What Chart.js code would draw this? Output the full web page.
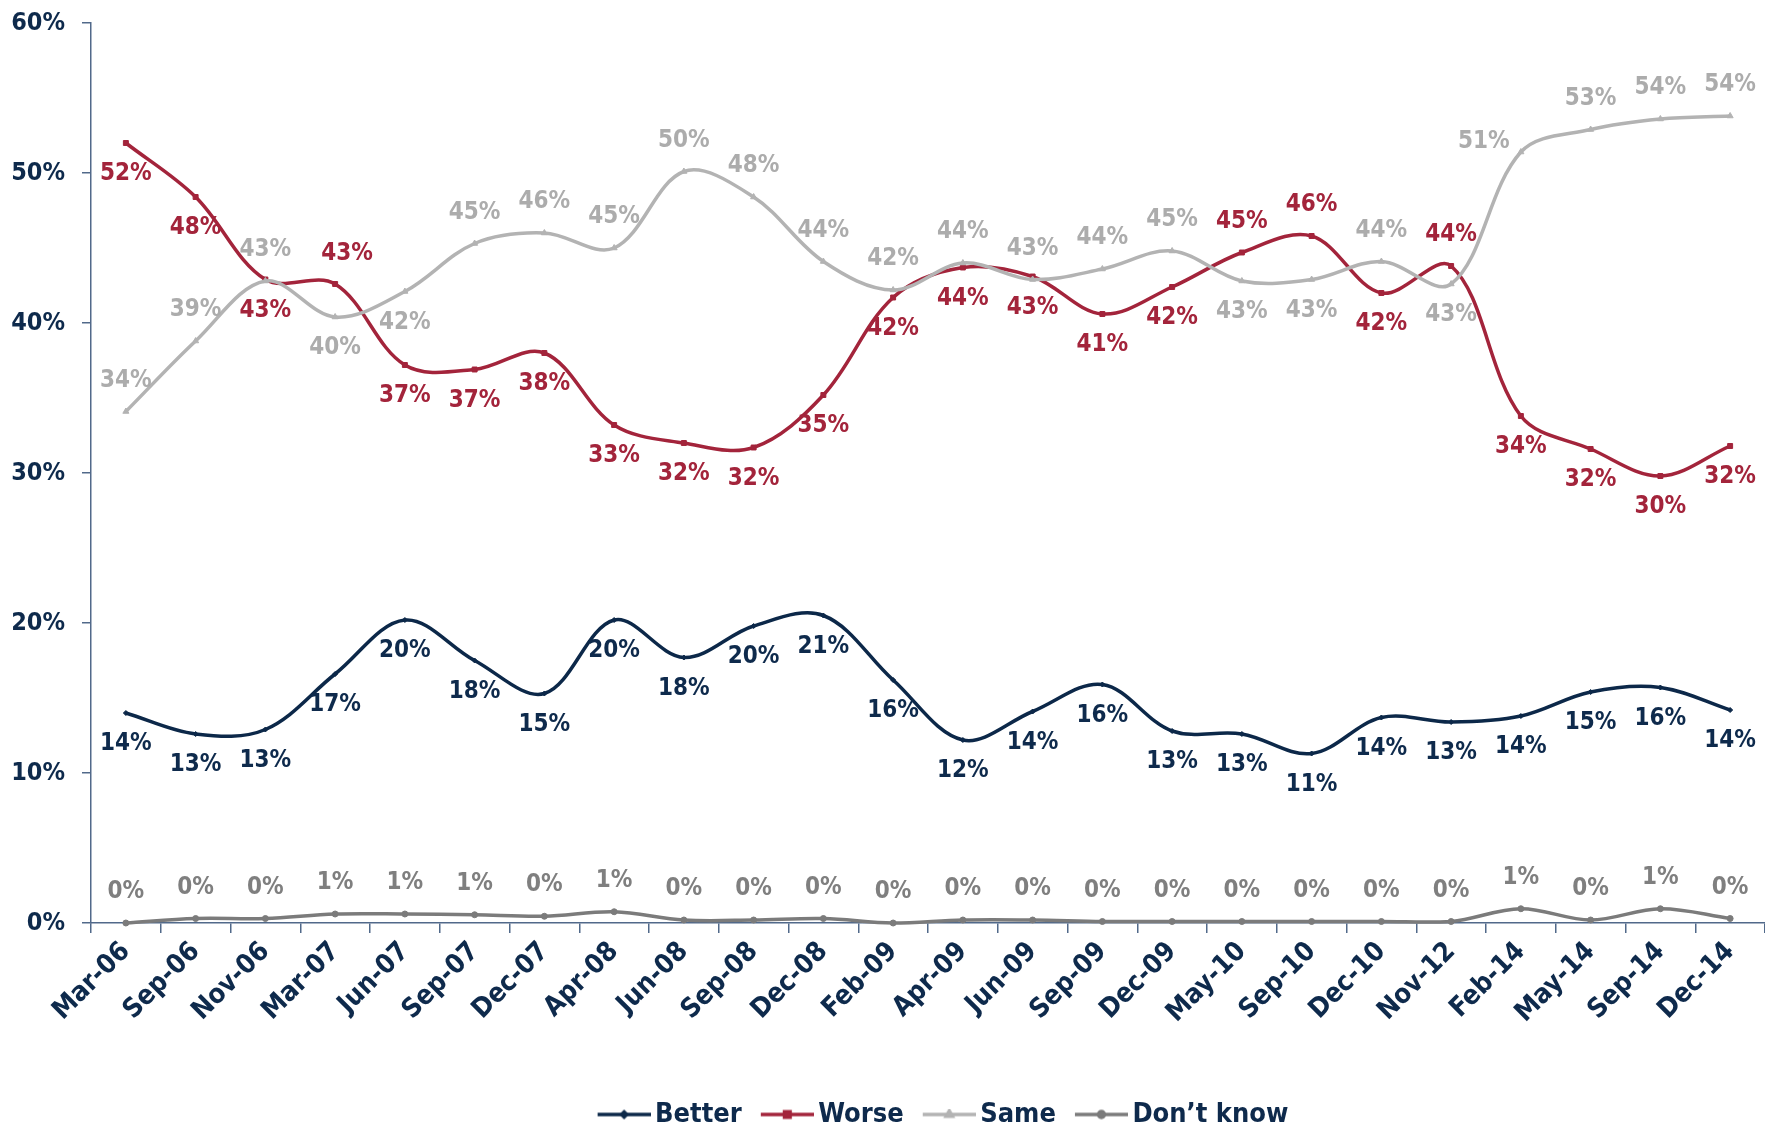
<!DOCTYPE html>
<html>
<head>
<meta charset="utf-8">
<title>Better / Worse / Same</title>
<script src="https://cdn.jsdelivr.net/npm/chart.js@4.4.1/dist/chart.umd.min.js"></script>
<style>
  html, body { margin: 0; padding: 0; background: #fff; }
  canvas { display: block; }
</style>
</head>
<body>
<canvas id="trendChart" width="1765" height="1127"></canvas>
<script>
// Survey waves
const periods = ["Mar-06", "Sep-06", "Nov-06", "Mar-07", "Jun-07", "Sep-07", "Dec-07", "Apr-08",
  "Jun-08", "Sep-08", "Dec-08", "Feb-09", "Apr-09", "Jun-09", "Sep-09", "Dec-09",
  "May-10", "Sep-10", "Dec-10", "Nov-12", "Feb-14", "May-14", "Sep-14", "Dec-14"]

// Series values (%)
const better = [14.0, 12.6, 12.9, 16.6, 20.2, 17.5, 15.3, 20.2, 17.7, 19.8, 20.5, 16.2,
  12.2, 14.1, 15.9, 12.8, 12.6, 11.3, 13.7, 13.4, 13.8, 15.4, 15.7, 14.2]
const worse = [52.0, 48.4, 42.9, 42.6, 37.2, 36.9, 38.0, 33.2, 32.0, 31.7, 35.2, 41.7,
  43.7, 43.1, 40.6, 42.4, 44.7, 45.8, 42.0, 43.8, 33.8, 31.6, 29.8, 31.8]
const same = [34.1, 38.8, 42.8, 40.4, 42.1, 45.3, 46.0, 45.0, 50.1, 48.4, 44.1, 42.2,
  44.0, 42.9, 43.6, 44.8, 42.8, 42.9, 44.1, 42.6, 51.4, 52.9, 53.6, 53.8]
const dontKnow = [0.0, 0.3, 0.3, 0.6, 0.6, 0.55, 0.45, 0.75, 0.2, 0.2, 0.3, 0.0,
  0.2, 0.2, 0.1, 0.1, 0.1, 0.1, 0.1, 0.1, 0.95, 0.2, 0.95, 0.3]

// Where each value label sits: a = above, b = below, ar/al = above right/left
const betterLabelPos = Array(24).fill("b")
const worseLabelPos = ["b", "b", "b", "ar", "b", "b", "b", "b", "b", "b", "b", "b",
  "b", "b", "b", "b", "a", "a", "b", "a", "b", "b", "b", "b"]
const sameLabelPos = ["a", "a", "a", "b", "b", "a", "a", "a", "a", "a", "a", "a",
  "a", "a", "a", "a", "b", "b", "a", "b", "al", "a", "a", "a"]
const dontKnowLabelPos = Array(24).fill("a")

const FONT = "'DejaVu Sans Condensed', 'DejaVu Sans', sans-serif"
const NAVY = "#0e2a4c"
const AXIS = "#51698a"
const colors = {
  better: "#0c2849",
  worse: "#a3243b",
  same: "#b3b3b3",
  dontKnow: "#7b7b7b",
}

// Line+marker icon for the legend; blank space on the left so the
// icon sits flush with the item start and close to its text
function legendIcon(color, style, radius) {
  const c = document.createElement("canvas")
  c.width = 62
  c.height = 12
  const g = c.getContext("2d")
  g.strokeStyle = color
  g.lineWidth = 3.5
  g.beginPath()
  g.moveTo(9, 6)
  g.lineTo(62, 6)
  g.stroke()
  Chart.helpers.drawPoint(g, { pointStyle: style, radius: radius, rotation: 0, borderWidth: 1 }, 35.5, 6)
  g.fillStyle = color
  g.fill()
  return c
}

// Draws the percent labels next to each point
const pointLabels = {
  id: "pointLabels",
  afterDatasetsDraw(chart) {
    const ctx = chart.ctx
    ctx.save()
    ctx.font = `bold 24px ${FONT}`
    ctx.textAlign = "center"
    ctx.textBaseline = "middle"
    chart.data.datasets.forEach((ds, i) => {
      const meta = chart.getDatasetMeta(i)
      meta.data.forEach((pt, j) => {
        const pos = ds.labelPos[j]
        let dx = 0
        let dy = 31
        if (pos === "a") dy = -31
        if (pos === "ar") { dx = 12; dy = -30 }
        if (pos === "al") { dx = -37; dy = -10 }
        ctx.fillStyle = ds.labelColor
        ctx.fillText(Math.round(ds.data[j]) + "%", pt.x + dx, pt.y + dy)
      })
    })
    ctx.restore()
  },
}

// Nudge the legend a bit right, like the original
const legendShift = {
  id: "legendShift",
  afterLayout(chart) {
    chart.legend.left += 15
    chart.legend.right += 15
  },
}

function makeDataset(label, data, color, labelColor, pointStyle, radius, labelPos, order) {
  return {
    label: label,
    data: data,
    borderColor: color,
    backgroundColor: color,
    borderWidth: 3.5,
    pointStyle: pointStyle,
    pointRadius: radius,
    pointBorderWidth: 1,
    tension: 0.35,
    clip: false,
    order: order,
    labelPos: labelPos,
    labelColor: labelColor,
  }
}

function initChart() {
  const ctx = document.getElementById("trendChart").getContext("2d")
  const datasets = [
    makeDataset("Better", better, colors.better, NAVY, "rectRot", 2.5, betterLabelPos, 4),
    makeDataset("Worse", worse, colors.worse, colors.worse, "rect", 3.5, worseLabelPos, 3),
    makeDataset("Same", same, colors.same, "#acacac", "triangle", 3.5, sameLabelPos, 2),
    makeDataset("Don\u2019t know", dontKnow, colors.dontKnow, "#7f7f7f", "circle", 3, dontKnowLabelPos, 1),
  ]
  const icons = [
    legendIcon(colors.better, "rectRot", 2.5),
    legendIcon(colors.worse, "rect", 4),
    legendIcon(colors.same, "triangle", 3.5),
    legendIcon(colors.dontKnow, "circle", 3),
  ]

  new Chart(ctx, {
    type: "line",
    data: { labels: periods, datasets: datasets },
    plugins: [pointLabels, legendShift],
    options: {
      responsive: false,
      animation: false,
      devicePixelRatio: 1,
      layout: { autoPadding: false, padding: { top: 23, left: 0, right: 0, bottom: -11 } },
      plugins: {
        tooltip: { enabled: false },
        legend: {
          position: "bottom",
          fullSize: false,
          labels: {
            usePointStyle: true,
            pointStyleWidth: 44,
            padding: 19,
            color: NAVY,
            font: { family: FONT, size: 27, weight: "bold" },
            generateLabels: (chart) =>
              chart.data.datasets.map((ds, i) => ({
                text: ds.label,
                fillStyle: ds.borderColor,
                strokeStyle: ds.borderColor,
                lineWidth: 0,
                pointStyle: icons[i],
                hidden: false,
                datasetIndex: i,
                fontColor: NAVY,
              })),
          },
        },
      },
      scales: {
        x: {
          offset: true,
          grid: {
            display: true,
            drawOnChartArea: false,
            drawTicks: true,
            tickLength: 10,
            offset: true,
            color: AXIS,
            lineWidth: 1.5,
          },
          border: { display: true, color: AXIS, width: 1.5 },
          ticks: {
            color: NAVY,
            font: { family: FONT, size: 27, weight: "bold" },
            minRotation: 45,
            maxRotation: 45,
            autoSkip: false,
            padding: 3,
          },
          afterFit: (scale) => {
            scale.height = 159
            scale.paddingLeft = 0
            scale.paddingRight = 0
          },
        },
        y: {
          min: 0,
          max: 60,
          grid: { drawOnChartArea: false, tickLength: 9, color: AXIS, lineWidth: 1.5 },
          border: { display: true, color: AXIS, width: 1.5 },
          ticks: {
            stepSize: 10,
            callback: (v) => v + "%",
            color: NAVY,
            font: { family: FONT, size: 25, weight: "bold" },
            padding: 17,
          },
          afterFit: (scale) => {
            scale.width = 91
            scale.paddingTop = 0
            scale.paddingBottom = 0
          },
        },
      },
    },
  })
}

window.addEventListener("load", initChart)
</script>
</body>
</html>
